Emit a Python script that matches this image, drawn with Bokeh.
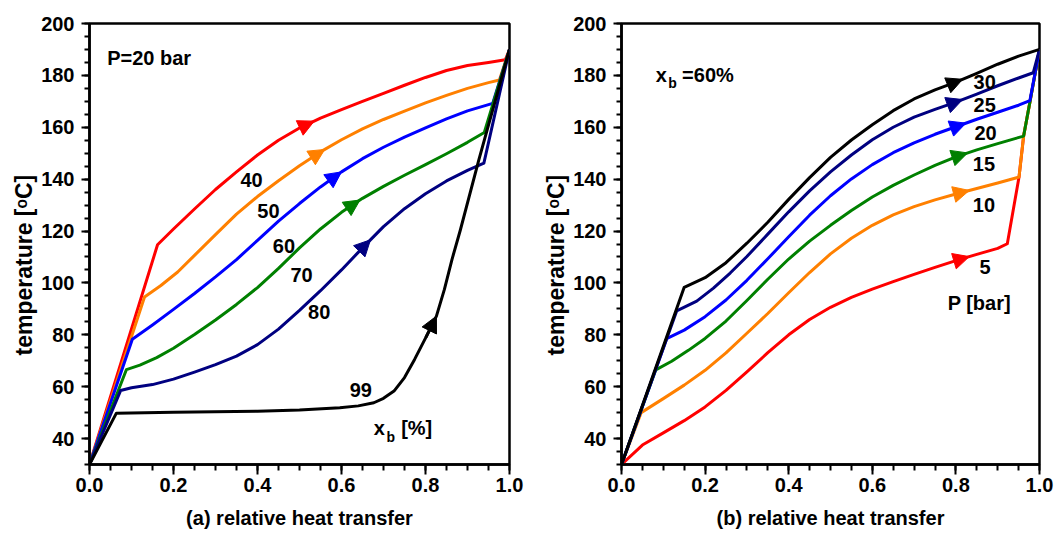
import numpy as np
from bokeh.plotting import figure
from bokeh.models import (Range1d, SingleIntervalTicker, NumeralTickFormatter, Label,
                          Arrow, NormalHead, ColumnDataSource, Title)
from bokeh.layouts import row
from bokeh.core.properties import value
from bokeh.embed import file_html
from bokeh.resources import INLINE

FONT = "Liberation Sans"

# ---------------- panel (a): P = 20 bar, varying x_b ----------------
a40_x = [0, 0.162, 0.2, 0.25, 0.3, 0.35, 0.4, 0.45, 0.5, 0.55, 0.6, 0.65, 0.7, 0.75, 0.8, 0.85, 0.9, 0.95, 0.99, 1.0]
a40_y = [30, 114.7, 120.8, 128.5, 136, 142.8, 149.3, 155, 159.7, 163.5, 166.8, 170, 173.1, 176.2, 179.2, 181.9, 183.8, 185.0, 186, 190]
a50_x = [0, 0.131, 0.17, 0.21, 0.25, 0.3, 0.35, 0.4, 0.45, 0.5, 0.55, 0.6, 0.65, 0.7, 0.75, 0.8, 0.85, 0.9, 0.95, 0.976, 1.0]
a50_y = [30, 94.6, 99, 104.2, 110.6, 118.6, 126.5, 133.3, 139.4, 145.2, 150.5, 155.2, 159.4, 163, 166.2, 169.4, 172.3, 175, 177.2, 178.2, 190]
a60_x = [0, 0.102, 0.15, 0.2, 0.25, 0.3, 0.35, 0.4, 0.45, 0.5, 0.55, 0.6, 0.65, 0.7, 0.75, 0.8, 0.85, 0.9, 0.96, 1.0]
a60_y = [30, 78.3, 83.8, 89.8, 95.9, 102.3, 109, 116.4, 123.8, 130.6, 137, 142.8, 147.9, 152.3, 156.2, 159.8, 163.2, 166.3, 169.2, 190]
a70_x = [0, 0.088, 0.12, 0.16, 0.2, 0.25, 0.3, 0.35, 0.4, 0.45, 0.5, 0.55, 0.6, 0.65, 0.7, 0.75, 0.8, 0.85, 0.9, 0.94, 1.0]
a70_y = [30, 66.6, 68.3, 71.2, 74.8, 80.1, 85.7, 91.7, 98.2, 105.6, 113.5, 120.8, 127.2, 132.6, 137.2, 141.5, 145.6, 149.8, 154.2, 158, 190]
a80_x = [0, 0.074, 0.1, 0.15, 0.2, 0.25, 0.3, 0.35, 0.4, 0.45, 0.5, 0.55, 0.6, 0.65, 0.7, 0.75, 0.8, 0.85, 0.9, 0.939, 1.0]
a80_y = [30, 58.5, 59.6, 60.8, 62.9, 65.6, 68.5, 71.8, 76.2, 82.2, 89.4, 97, 105, 113.5, 121.7, 128.6, 134.4, 139.3, 143.4, 146.2, 190]
a99_x = [0, 0.064, 0.2, 0.4, 0.5, 0.596, 0.64, 0.677, 0.7, 0.725, 0.75, 0.774, 0.8, 0.826, 0.845, 0.863, 0.883, 0.927, 1.0]
a99_y = [30, 49.8, 50.1, 50.5, 51.0, 51.9, 52.6, 53.8, 55.5, 58.3, 63.5, 70.5, 78.7, 87.2, 97.5, 109, 120.4, 147.4, 190]
a_series = [(a40_x, a40_y, "#ff0000"), (a50_x, a50_y, "#ff8000"), (a60_x, a60_y, "#0000ff"),
            (a70_x, a70_y, "#008000"), (a80_x, a80_y, "#000080"), (a99_x, a99_y, "#000000")]
a_arrow_x = [0.535, 0.56, 0.60, 0.644, 0.669, 0.826]
a_lab_text = ["40", "50", "60", "70", "80", "99"]
a_lab_x = [0.386, 0.426, 0.463, 0.505, 0.547, 0.646]
a_lab_y = [139.8, 127.9, 114.3, 103.2, 88.7, 58.6]

# ---------------- panel (b): x_b = 60 %, varying P ----------------
b5_x = [0, 0.05, 0.1, 0.15, 0.2, 0.25, 0.3, 0.35, 0.4, 0.45, 0.5, 0.55, 0.6, 0.65, 0.7, 0.75, 0.8, 0.85, 0.9, 0.923, 0.951, 0.962, 0.978, 1.0]
b5_y = [30, 37.5, 42.2, 46.9, 52.2, 58.6, 65.7, 73.1, 80, 85.9, 90.6, 94.4, 97.6, 100.5, 103.3, 106, 108.6, 111, 113.3, 115.1, 140.8, 156.6, 170.5, 190]
b10_x = [0, 0.047, 0.1, 0.15, 0.2, 0.25, 0.3, 0.35, 0.4, 0.45, 0.5, 0.55, 0.6, 0.65, 0.7, 0.75, 0.8, 0.85, 0.9, 0.951, 0.962, 0.978, 1.0]
b10_y = [30, 50, 55.4, 60.6, 66.3, 73, 80.6, 88.2, 96.2, 104, 111.2, 117.2, 122.2, 126.2, 129.4, 132, 134.3, 136.4, 138.5, 140.8, 156.6, 170.5, 190]
b15_x = [0, 0.082, 0.12, 0.16, 0.2, 0.25, 0.3, 0.35, 0.4, 0.45, 0.5, 0.55, 0.6, 0.65, 0.7, 0.75, 0.8, 0.85, 0.9, 0.962, 0.978, 1.0]
b15_y = [30, 66.5, 69.8, 74, 78.6, 85.3, 93.2, 101.4, 109.2, 116.1, 122.2, 127.9, 133.1, 137.6, 141.6, 145.3, 148.6, 151.3, 153.7, 156.6, 170.5, 190]
b20_x = [0, 0.108, 0.15, 0.2, 0.25, 0.3, 0.35, 0.4, 0.45, 0.5, 0.55, 0.6, 0.65, 0.7, 0.75, 0.8, 0.85, 0.9, 0.95, 0.977, 1.0]
b20_y = [30, 78.5, 81.8, 87, 93.4, 101, 109.3, 117.8, 126.1, 133.6, 140.1, 145.6, 150.2, 154, 157.3, 160.2, 163.1, 165.8, 168.5, 170.3, 190]
b25_x = [0, 0.132, 0.18, 0.22, 0.26, 0.3, 0.35, 0.4, 0.45, 0.5, 0.55, 0.6, 0.65, 0.7, 0.75, 0.8, 0.85, 0.9, 0.95, 0.985, 1.0]
b25_y = [30, 89.2, 93, 98, 103.8, 110.2, 118.8, 127.4, 135.5, 142.8, 149.3, 155.2, 160, 163.9, 166.9, 169.7, 172.8, 176, 179, 181, 190]
b30_x = [0, 0.15, 0.2, 0.25, 0.3, 0.35, 0.4, 0.45, 0.5, 0.55, 0.6, 0.65, 0.7, 0.75, 0.8, 0.85, 0.9, 0.95, 1.0]
b30_y = [30, 98.3, 102, 107.8, 115.3, 123.4, 132.2, 140.6, 148.4, 155.1, 161, 166.4, 170.9, 174.4, 177.4, 180.8, 184.3, 187.4, 190]
b_series = [(b5_x, b5_y, "#ff0000"), (b10_x, b10_y, "#ff8000"), (b15_x, b15_y, "#008000"),
            (b20_x, b20_y, "#0000ff"), (b25_x, b25_y, "#000080"), (b30_x, b30_y, "#000000")]
b_arrow_x = [0.832, 0.832, 0.828, 0.824, 0.816, 0.816]
b_lab_text = ["5", "10", "15", "20", "25", "30"]
b_lab_x = [0.87, 0.867, 0.867, 0.871, 0.869, 0.869]
b_lab_y = [106.1, 130.0, 145.7, 157.9, 168.5, 177.5]


def make_panel(width, left, right, xtitle):
    p = figure(width=width, height=536, x_range=Range1d(0, 1), y_range=Range1d(30, 200),
               output_backend="svg", toolbar_location=None,
               min_border_left=left, min_border_right=right, min_border_top=23,
               min_border_bottom=72)
    p.grid.visible = False
    p.background_fill_color = "white"
    p.border_fill_color = "white"
    p.outline_line_color = "black"
    p.outline_line_width = 2.5
    p.outline_line_alpha = 1.0
    p.xaxis.ticker = SingleIntervalTicker(interval=0.2, num_minor_ticks=4)
    p.yaxis.ticker = SingleIntervalTicker(interval=20, num_minor_ticks=4)
    p.xaxis.formatter = NumeralTickFormatter(format="0.0")
    for ax in (p.xaxis[0], p.yaxis[0]):
        ax.axis_line_width = 2.5
        ax.axis_line_color = "black"
        ax.major_tick_line_width = 2
        ax.minor_tick_line_width = 2
        ax.major_tick_line_color = "black"
        ax.minor_tick_line_color = "black"
        ax.major_tick_in = 0
        ax.minor_tick_in = 0
        ax.major_label_text_font = FONT
        ax.major_label_text_font_style = "bold"
        ax.major_label_text_font_size = "20px"
        ax.major_label_text_color = "black"
        ax.axis_label_text_font = FONT
        ax.axis_label_text_font_style = "bold"
        ax.axis_label_text_color = "black"
    xa = p.xaxis[0]
    xa.major_tick_out = 10
    xa.minor_tick_out = 6
    xa.major_label_standoff = 3
    xa.axis_label = xtitle
    xa.axis_label_text_font_size = "20px"
    xa.axis_label_standoff = 12
    ya = p.yaxis[0]
    ya.major_tick_out = 8
    ya.minor_tick_out = 5
    ya.major_label_standoff = 7
    # y-axis title, starting ~109 px above the bottom of the frame as in the reference
    p.add_layout(Title(text="temperature [\u1d52C]", align="left", offset=109,
                       standoff=4, text_font=FONT, text_font_style="bold",
                       text_font_size="23px", text_color="black"), "left")
    return p


def add_curves(p, series, arrow_x):
    for (xs, ys, c), ax in zip(series, arrow_x):
        p.line(xs, ys, line_width=3, line_color=c, line_join="round")
        x0 = ax - 0.025
        y0 = float(np.interp(x0, xs, ys))
        y1 = float(np.interp(ax, xs, ys))
        p.add_layout(Arrow(end=NormalHead(size=16, fill_color=c, line_color=c, line_width=1),
                           x_start=x0, y_start=y0, x_end=ax, y_end=y1,
                           line_color=c, line_width=3))


def add_labels(p, texts, xs, ys):
    src = ColumnDataSource(dict(x=xs, y=ys, t=texts))
    p.text(x="x", y="y", text="t", source=src, text_font=value(FONT),
           text_font_style="bold", text_font_size="20px", text_color="black",
           text_align="center", text_baseline="middle")


def lab(p, x, y, t, size="20px", align="left", baseline="alphabetic"):
    p.add_layout(Label(x=x, y=y, text=t, text_font=FONT, text_font_style="bold",
                       text_font_size=size, text_color="black",
                       text_align=align, text_baseline=baseline))


pa = make_panel(533, 89, 24, "(a) relative heat transfer")
add_curves(pa, a_series, a_arrow_x)
add_labels(pa, a_lab_text, a_lab_x, a_lab_y)
lab(pa, 0.142, 186.6, "P=20 bar", align="center", baseline="middle")
lab(pa, 0.677, 44.0, "x")
lab(pa, 0.707, 40.7, "b", size="14px")
lab(pa, 0.742, 44.0, "[%]")

pb = make_panel(524, 88, 18, "(b) relative heat transfer")
add_curves(pb, b_series, b_arrow_x)
add_labels(pb, b_lab_text, b_lab_x, b_lab_y)
lab(pb, 0.856, 92.1, "P [bar]", align="center", baseline="middle")
lab(pb, 0.082, 180.1, "x")
lab(pb, 0.112, 176.9, "b", size="14px")
lab(pb, 0.145, 180.1, "=60%")

layout = row(pa, pb)

open("out.html", "w").write(file_html(layout, INLINE))
